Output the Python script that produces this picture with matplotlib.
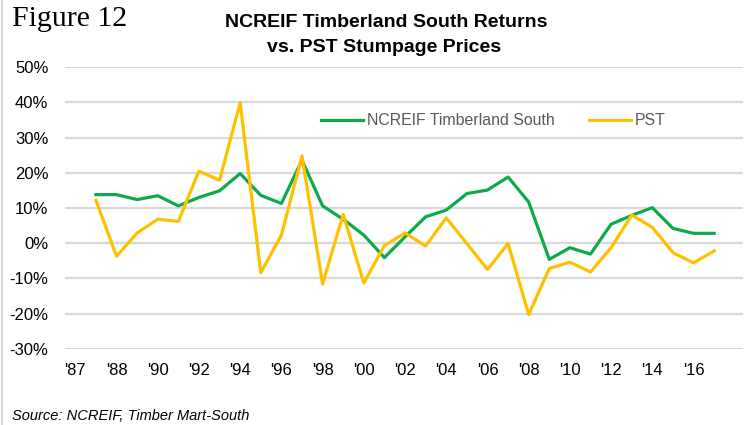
import matplotlib.pyplot as plt
from matplotlib import font_manager
import numpy as np

years = list(range(1987, 2018))
ncreif = [13.8, 13.8, 12.4, 13.5, 10.6, 13.0, 14.9, 19.8, 13.6, 11.3,
          23.6, 10.6, 6.8, 2.3, -4.1, 1.8, 7.5, 9.4, 14.1, 15.1,
          18.8, 11.7, -4.6, -1.3, -3.1, 5.4, 7.9, 10.1, 4.2, 2.8, 2.8]
pst = [12.2, -3.7, 2.9, 6.8, 6.2, 20.5, 17.9, 39.9, -8.4, 2.3,
       24.8, -11.6, 8.2, -11.3, -0.7, 2.9, -0.8, 7.2, -0.1, -7.5,
       -0.1, -20.3, -7.2, -5.4, -8.2, -1.3, 8.0, 4.5, -2.7, -5.6, -2.2]
tick_pos = list(range(1986, 2017, 2))
tick_labels = ["'87", "'88", "'90", "'92", "'94", "'96", "'98", "'00",
               "'02", "'04", "'06", "'08", "'10", "'12", "'14", "'16"]
y_ticks = [-30, -20, -10, 0, 10, 20, 30, 40, 50]

names = {f.name for f in font_manager.fontManager.ttflist}
narrow = 'Liberation Sans Narrow' if 'Liberation Sans Narrow' in names else 'Liberation Sans'

fig = plt.figure(figsize=(7.52, 4.25), dpi=100)
ax = fig.add_axes([65 / 752, 1 - 348.7 / 425, (743 - 65) / 752, (348.7 - 67.3) / 425])

ax.plot(years, ncreif, color='#0DAA4B', lw=2.3, label='NCREIF Timberland South')
ax.plot(years, pst, color='#FFC000', lw=2.3, label='PST')

ax.set_xlim(1985.5, 2018.4)
ax.set_ylim(-30, 50)
ax.set_yticks(y_ticks)
ax.set_yticklabels([f'{v}%' for v in y_ticks], family=narrow, fontsize=12)
ax.set_xticks(tick_pos)
ax.set_xticklabels(tick_labels, family=narrow, fontsize=12)
ax.tick_params(length=0)
ax.tick_params(axis='x', pad=10)
ax.tick_params(axis='y', pad=12)
ax.grid(axis='y', color='#D9D9D9', lw=1.6)
ax.set_axisbelow(True)
for s in ax.spines.values():
    s.set_visible(False)

leg = ax.legend(loc='center left', bbox_to_anchor=(0.3776, 0.81), ncol=2, frameon=False,
                borderaxespad=0, borderpad=0,
                handlelength=2.65, columnspacing=2.15, handletextpad=0.25,
                prop={'family': narrow, 'size': 11.4})
for t in leg.get_texts():
    t.set_color('#595959')

fig.text(0.514, 0.948, 'NCREIF Timberland South Returns', ha='center', va='center',
         family=narrow, weight='bold', fontsize=14)
fig.text(0.511, 0.889, 'vs. PST Stumpage Prices', ha='center', va='center',
         family=narrow, weight='bold', fontsize=14)
fig.text(0.016, 0.955, 'Figure 12', ha='left', va='center',
         family='Liberation Serif', fontsize=21.5)
fig.text(0.016, 0.02, 'Source: NCREIF, Timber Mart-South', ha='left', va='center',
         family=narrow, style='italic', fontsize=10.5)

fig.add_artist(plt.Line2D([0.002, 0.002], [0, 1], color='#D9D9D9', lw=1.5))

fig.savefig('out.png', dpi=100)
